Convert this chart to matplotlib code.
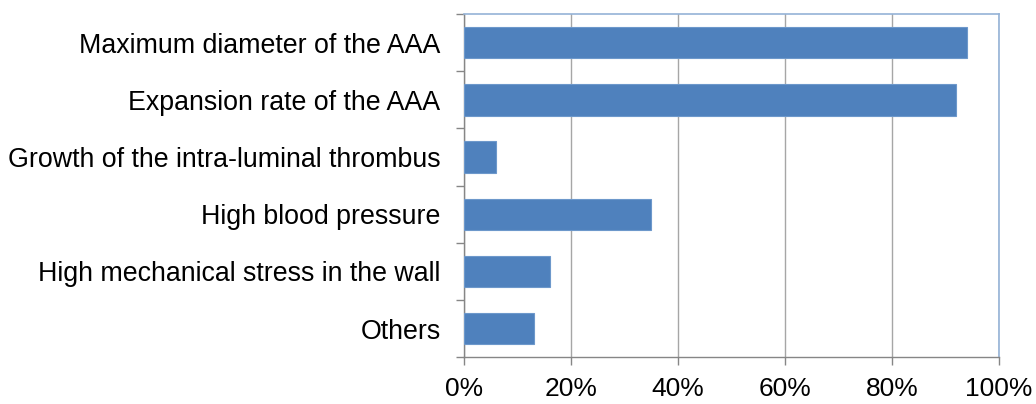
import matplotlib
matplotlib.use("Agg")
import matplotlib.pyplot as plt
from matplotlib.ticker import FuncFormatter

# factors considered relevant (share of respondents, %)
categories = [
    "Maximum diameter of the AAA",
    "Expansion rate of the AAA",
    "Growth of the intra-luminal thrombus",
    "High blood pressure",
    "High mechanical stress in the wall",
    "Others",
]
values = [94, 92, 6, 35, 16, 13]
x_ticks = [0, 20, 40, 60, 80, 100]

plt.rcParams['font.family'] = ['Liberation Sans', 'DejaVu Sans']

fig = plt.figure(figsize=(10.36, 4.04), dpi=100)
ax = fig.add_axes([0.448, 0.116, 0.516, 0.849])

ypos = list(range(len(categories)))
ax.barh(ypos, values, height=0.55, color="#4F81BD", edgecolor="#6D98CB", linewidth=0.8, zorder=3)

ax.set_xlim(0, 100)
ax.set_ylim(len(categories) - 0.5, -0.5)
ax.set_xticks(x_ticks)
ax.xaxis.set_major_formatter(FuncFormatter(lambda v, p: f"{v:.0f}%"))
ax.grid(axis="x", color="#A6A6A6", linewidth=1.0, zorder=0)

# category labels sit between the boundary ticks
ax.set_yticks(ypos)
ax.set_yticklabels(categories)
ax.set_yticks([i - 0.5 for i in range(len(categories) + 1)], minor=True)
ax.tick_params(axis="y", which="major", length=0, pad=17, labelsize=19.3)
ax.tick_params(axis="y", which="minor", length=6, color="#868686", width=1.0)
ax.tick_params(axis="x", length=6, color="#868686", width=1.0, pad=8, labelsize=19)

for side in ("left", "bottom"):
    ax.spines[side].set_color("#868686")
    ax.spines[side].set_linewidth(1.0)
for side in ("top", "right"):
    ax.spines[side].set_color("#95B3D7")
    ax.spines[side].set_linewidth(1.2)

fig.savefig("out.png", dpi=100)
